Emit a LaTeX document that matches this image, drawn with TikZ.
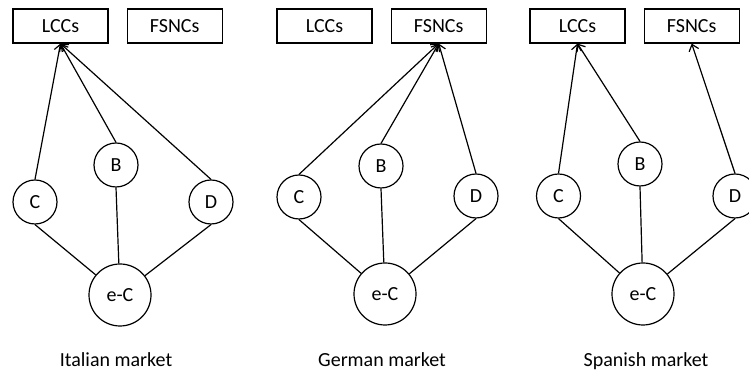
\documentclass[tikz,border=0pt]{standalone}
\usepackage{fontspec}
\setmainfont{Carlito}
\usetikzlibrary{arrows.meta,positioning}

\begin{document}
\begin{tikzpicture}[
  x=0.5pt, y=-0.5pt,
  node distance=9pt,
  firm/.style={draw, line width=0.6pt, inner sep=0pt, font=\fontsize{10}{12}\selectfont,
               minimum width=47.5pt, minimum height=17pt},
  agent/.style={draw, circle, line width=0.6pt, inner sep=0pt,
                font=\fontsize{10}{12}\selectfont, minimum size=22pt},
  hub/.style={agent, minimum size=31pt},
  mkt/.style={anchor=base, font=\fontsize{10}{12}\selectfont},
  link/.style={line width=0.6pt},
  arr/.style={link, -{Straight Barb[length=3pt, width=5pt]}}]

  \useasboundingbox (0,0) rectangle (749,383);

  % Italian market
  \node[firm] (lccI) at (60.5,26) {LCCs};
  \node[firm, right=of lccI] (fsncI) {FSNCs};
  \node[agent] (cI) at (35,202) {C};
  \node[agent] (bI) at (116,165) {B};
  \node[agent] (dI) at (211,202) {D};
  \node[hub] (ecI) at (120,295) {e-C};
  \node[mkt] (itI) at (116,367) {Italian market};

  \draw[arr] (cI.north) -- (lccI.south);
  \draw[arr] (bI.north) -- (lccI.south);
  \draw[arr] (dI.north) -- (lccI.south);
  \draw[link] (cI.south) -- (ecI);
  \draw[link] (bI.south) -- (ecI);
  \draw[link] (dI.south) -- (ecI);

  % German market
  \node[firm] (lccG) at (324.5,26) {LCCs};
  \node[firm, right=of lccG] (fsncG) {FSNCs};
  \node[agent] (cG) at (299,197) {C};
  \node[agent] (bG) at (381,166) {B};
  \node[agent] (dG) at (476,196) {D};
  \node[hub] (ecG) at (385,294) {e-C};
  \node[mkt] (deG) at (382,367) {German market};

  \draw[arr] (cG.north) -- (fsncG.south);
  \draw[arr] (bG.north) -- (fsncG.south);
  \draw[arr] (dG.north) -- (fsncG.south);
  \draw[link] (cG.south) -- (ecG);
  \draw[link] (bG.south) -- (ecG);
  \draw[link] (dG.south) -- (ecG);

  % Spanish market
  \node[firm] (lccS) at (577.5,26) {LCCs};
  \node[firm, right=of lccS] (fsncS) {FSNCs};
  \node[agent] (cS) at (558.5,196) {C};
  \node[agent] (bS) at (640,164) {B};
  \node[agent] (dS) at (735,196) {D};
  \node[hub] (ecS) at (643,294) {e-C};
  \node[mkt] (esS) at (646,367) {Spanish market};

  \draw[arr] (cS.north) -- (lccS.south);
  \draw[arr] (bS.north) -- (lccS.south);
  \draw[arr] (dS.north) -- (fsncS.south);
  \draw[link] (cS.south) -- (ecS);
  \draw[link] (bS.south) -- (ecS);
  \draw[link] (dS.south) -- (ecS);
\end{tikzpicture}
\end{document}
